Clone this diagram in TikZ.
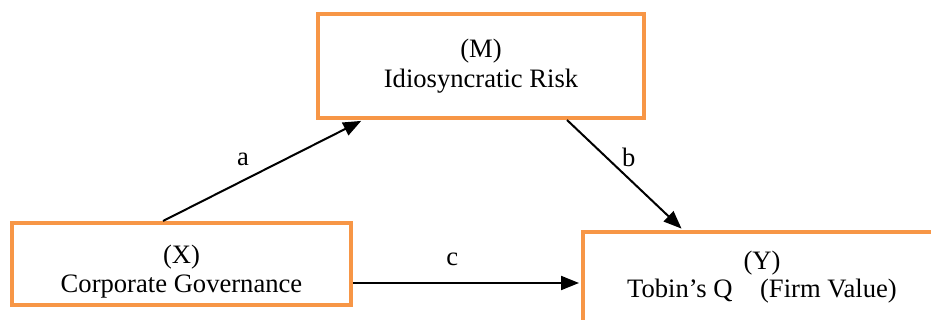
\documentclass[tikz,border=0pt]{standalone}
\usepackage{fontspec}
\setmainfont{Liberation Serif}
\usetikzlibrary{arrows.meta,positioning,calc}
\definecolor{boxorange}{HTML}{F79646}
\tikzset{
  box/.style={
    rectangle,
    draw=boxorange, line width=2pt,
    inner sep=0pt,
    align=center,
    font=\fontsize{13.3}{15}\selectfont},
  txt/.style={align=center, inner sep=0pt, font=\fontsize{13.3}{14}\selectfont},
  link/.style={draw, line width=1pt, -{Triangle[length=9pt,width=7pt]}, shorten >=1pt},
  lbl/.style={inner sep=1pt, font=\fontsize{13.3}{15}\selectfont},
}
\begin{document}
\begin{tikzpicture}[x=0.5pt, y=-0.5pt]
    \useasboundingbox (0,0) rectangle (931,320);
    \clip (0,0) rectangle (931,320);

    %variables
    \node[box, minimum width=163pt, minimum height=52pt] (M) at (481,66)
        {(M)\\Idiosyncratic Risk};
    \node[box, minimum width=169.5pt, minimum height=41pt,
          font=\fontsize{13.3}{14.5}\selectfont] (X) at (181.5,264)
        {\rule{0pt}{17pt}(X)\\Corporate Governance};
    \node[box, minimum width=188.5pt, minimum height=64pt] (Y) at (771.5,296) {};
    \node[txt] (Ytxt) at (762,277) {(Y)\\Tobin’s Q\hspace{10.5pt} (Firm Value)};

    %paths
    \draw[link] ([xshift=-9.25pt]X.north) -- ([xshift=23.5pt]M.south west)
        node[lbl, pos=.4, above=6pt] {a};
    \draw[link] ([xshift=43pt]M.south) -- ([xshift=51pt]Y.north west)
        node[lbl, pos=.45, above right=0pt] {b};
    \draw[link] ([yshift=-9.5pt]X.east) -- ([yshift=-9.5pt]X.east -| Y.west)
        node[lbl, pos=.435, above=7pt] {c};

\end{tikzpicture}
\end{document}
